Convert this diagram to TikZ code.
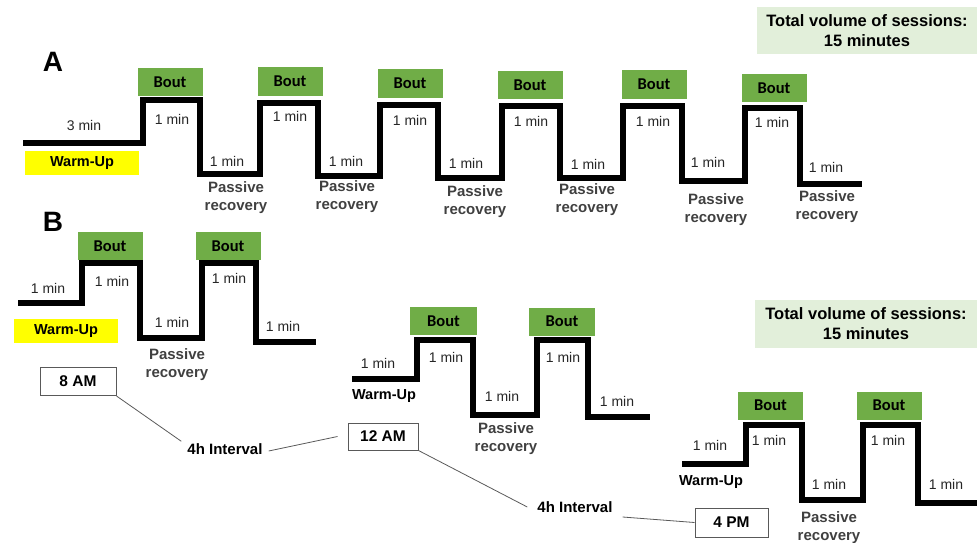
\documentclass[tikz,border=0pt]{standalone}
\usepackage{fontspec}
\setmainfont{Liberation Sans}
\newfontfamily\boutfont{Carlito}
\usepackage{xcolor}
\usetikzlibrary{positioning, calc}

\definecolor{boutgreen}{HTML}{70AD47}
\definecolor{totalgreen}{HTML}{E2EFDA}
\definecolor{warmyellow}{HTML}{FFFF00}
\definecolor{mintext}{HTML}{262626}
\definecolor{recotext}{HTML}{404040}
\definecolor{linkgray}{HTML}{595959}

\begin{document}
\begin{tikzpicture}[x=1pt, y=-1pt,
    profile/.style={line width=5.5pt, black},
    bout/.style={fill=boutgreen, minimum width=65pt, minimum height=28pt, inner sep=0pt, font=\boutfont\bfseries\fontsize{16.5}{18}\selectfont},
    mins/.style={inner sep=0pt, text=mintext, font=\fontsize{14}{16}\selectfont},
    reco/.style={inner sep=0pt, align=center, text=recotext, font=\bfseries\fontsize{15}{18}\selectfont},
    warmbox/.style={fill=warmyellow, minimum height=24pt, inner sep=0pt, font=\bfseries\fontsize{14.5}{16}\selectfont},
    warmtext/.style={inner sep=0pt, font=\bfseries\fontsize{14.5}{16}\selectfont},
    timebox/.style={draw=linkgray, line width=1pt, minimum height=28pt, inner sep=0pt, font=\bfseries\fontsize{15.5}{17}\selectfont},
    total/.style={fill=totalgreen, minimum width=220pt, minimum height=47pt, inner sep=0pt, align=center, font=\bfseries\fontsize{16.5}{20}\selectfont},
    interval/.style={inner sep=0pt, font=\bfseries\fontsize{15}{17}\selectfont},
    link/.style={linkgray, line width=0.8pt},
    panel/.style={inner sep=0pt, font=\bfseries\fontsize{28}{30}\selectfont}]

        \useasboundingbox (0,0) rectangle (977,543);

        % Panel A
        \node[panel] (lblA) at (53,62) {A};
        \node[total] (totalA) at (867,30.5) {Total volume of sessions:\\15 minutes};

        \draw[profile] (23,143) -- (143,143) -- (143,100) -- (200,100) -- (200,174) -- (260,174)
            -- (260,103) -- (318,103) -- (318,176) -- (380,176) -- (380,105) -- (438,105)
            -- (438,178) -- (502,178) -- (502,106) -- (560,106) -- (560,178) -- (623,178)
            -- (623,106) -- (682,106) -- (682,181) -- (745,181) -- (745,108) -- (800,108)
            -- (800,184) -- (862,184);% Session A

        \node[warmbox, minimum width=114pt] (warmA) at (82,163) {Warm-Up};
        \node[mins] (minA0) at (84,125) {3 min};

        \node[bout] (boutA1) at (170,82) {Bout};
        \node[bout] (boutA2) at (290,81.5) {Bout};
        \node[bout] (boutA3) at (410,83.5) {Bout};
        \node[bout] (boutA4) at (530,85) {Bout};
        \node[bout] (boutA5) at (654,84.5) {Bout};
        \node[bout] (boutA6) at (774,88) {Bout};

        \node[mins] (topA1) at (172,119) {1 min};
        \node[mins] (topA2) at (290,116) {1 min};
        \node[mins] (topA3) at (410,120) {1 min};
        \node[mins] (topA4) at (531,121) {1 min};
        \node[mins] (topA5) at (653,121) {1 min};
        \node[mins] (topA6) at (772,122) {1 min};

        \node[mins] (botA1) at (227,161) {1 min};
        \node[mins] (botA2) at (346,161) {1 min};
        \node[mins] (botA3) at (466,163) {1 min};
        \node[mins] (botA4) at (588,164) {1 min};
        \node[mins] (botA5) at (708,162) {1 min};
        \node[mins] (botA6) at (826,167) {1 min};

        \node[reco] (recoA1) at (236,198) {Passive\\recovery};
        \node[reco] (recoA2) at (347,197) {Passive\\recovery};
        \node[reco] (recoA3) at (475,202) {Passive\\recovery};
        \node[reco] (recoA4) at (587,200) {Passive\\recovery};
        \node[reco] (recoA5) at (716,210) {Passive\\recovery};
        \node[reco] (recoA6) at (827,207) {Passive\\recovery};

        % Panel B
        \node[panel] (lblB) at (53,222) {B};
        \node[total, minimum width=222pt, minimum height=48pt] (totalB) at (866,324) {Total volume of sessions:\\15 minutes};

        % 8 AM session
        \draw[profile] (18,303) -- (82,303) -- (82,263) -- (140,263) -- (140,338) -- (202,338)
            -- (202,263) -- (256,263) -- (256,342) -- (316,342);% Session 1
        \node[bout] (boutB1) at (110,246) {Bout};
        \node[bout] (boutB2) at (228,246) {Bout};
        \node[mins] (warmMinB1) at (48,288) {1 min};
        \node[mins] (topB1) at (112,281) {1 min};
        \node[mins] (botB1) at (172,322) {1 min};
        \node[mins] (topB2) at (229,278) {1 min};
        \node[mins] (endB1) at (283,326) {1 min};
        \node[warmbox, minimum width=104pt] (warmB1) at (66,331) {Warm-Up};
        \node[reco] (recoB1) at (177,365) {Passive\\recovery};
        \node[timebox, minimum width=76pt] (am8) at (78,381.5) {8 AM};

        % 12 AM session
        \draw[profile] (352,379) -- (417,379) -- (417,340) -- (473,340) -- (473,415) -- (537,415)
            -- (537,340) -- (588,340) -- (588,417) -- (650,417);% Session 2
        \node[bout, minimum width=67pt] (boutB3) at (443.5,321) {Bout};
        \node[bout, minimum width=66pt] (boutB4) at (562,321.5) {Bout};
        \node[mins] (warmMinB2) at (378,363) {1 min};
        \node[mins] (topB3) at (446,357) {1 min};
        \node[mins] (botB2) at (502,396) {1 min};
        \node[mins] (topB4) at (563,357) {1 min};
        \node[mins] (endB2) at (617,401) {1 min};
        \node[warmtext] (warmB2) at (384,396) {Warm-Up};
        \node[reco] (recoB2) at (506,439) {Passive\\recovery};
        \node[timebox, minimum width=70pt, minimum height=27pt] (am12) at (383,436.5) {12 AM};

        % 4 PM session
        \draw[profile] (682,464) -- (746,464) -- (746,425) -- (802,425) -- (802,500) -- (863,500)
            -- (863,425) -- (918,425) -- (918,503) -- (977,503);% Session 3
        \node[bout] (boutB5) at (770.5,405.5) {Bout};
        \node[bout] (boutB6) at (889,405.5) {Bout};
        \node[mins] (warmMinB3) at (710,445) {1 min};
        \node[mins] (topB5) at (769,440) {1 min};
        \node[mins] (botB3) at (829,484) {1 min};
        \node[mins] (topB6) at (888,440) {1 min};
        \node[mins] (endB3) at (946,484) {1 min};
        \node[warmtext] (warmB3) at (711,482) {Warm-Up};
        \node[reco] (recoB3) at (829,528) {Passive\\recovery};
        \node[timebox, minimum width=73pt, minimum height=29pt] (pm4) at (731.5,522.5) {4 PM};

        % Intervals
        \node[interval] (int1) at (225,449) {4h Interval};
        \node[interval] (int2) at (575,507) {4h Interval};
        \draw[link] (am8.south east) -- ([xshift=-6pt, yshift=2pt]int1.north west);
        \draw[link] ([xshift=6pt, yshift=-2pt]int1.east) -- ([xshift=-10pt]am12.west);
        \draw[link] (am12.south east) -- ([xshift=-10pt]int2.west);
        \draw[link] ([xshift=10pt, yshift=-10pt]int2.east) -- (pm4.west);
    \end{tikzpicture}
\end{document}
